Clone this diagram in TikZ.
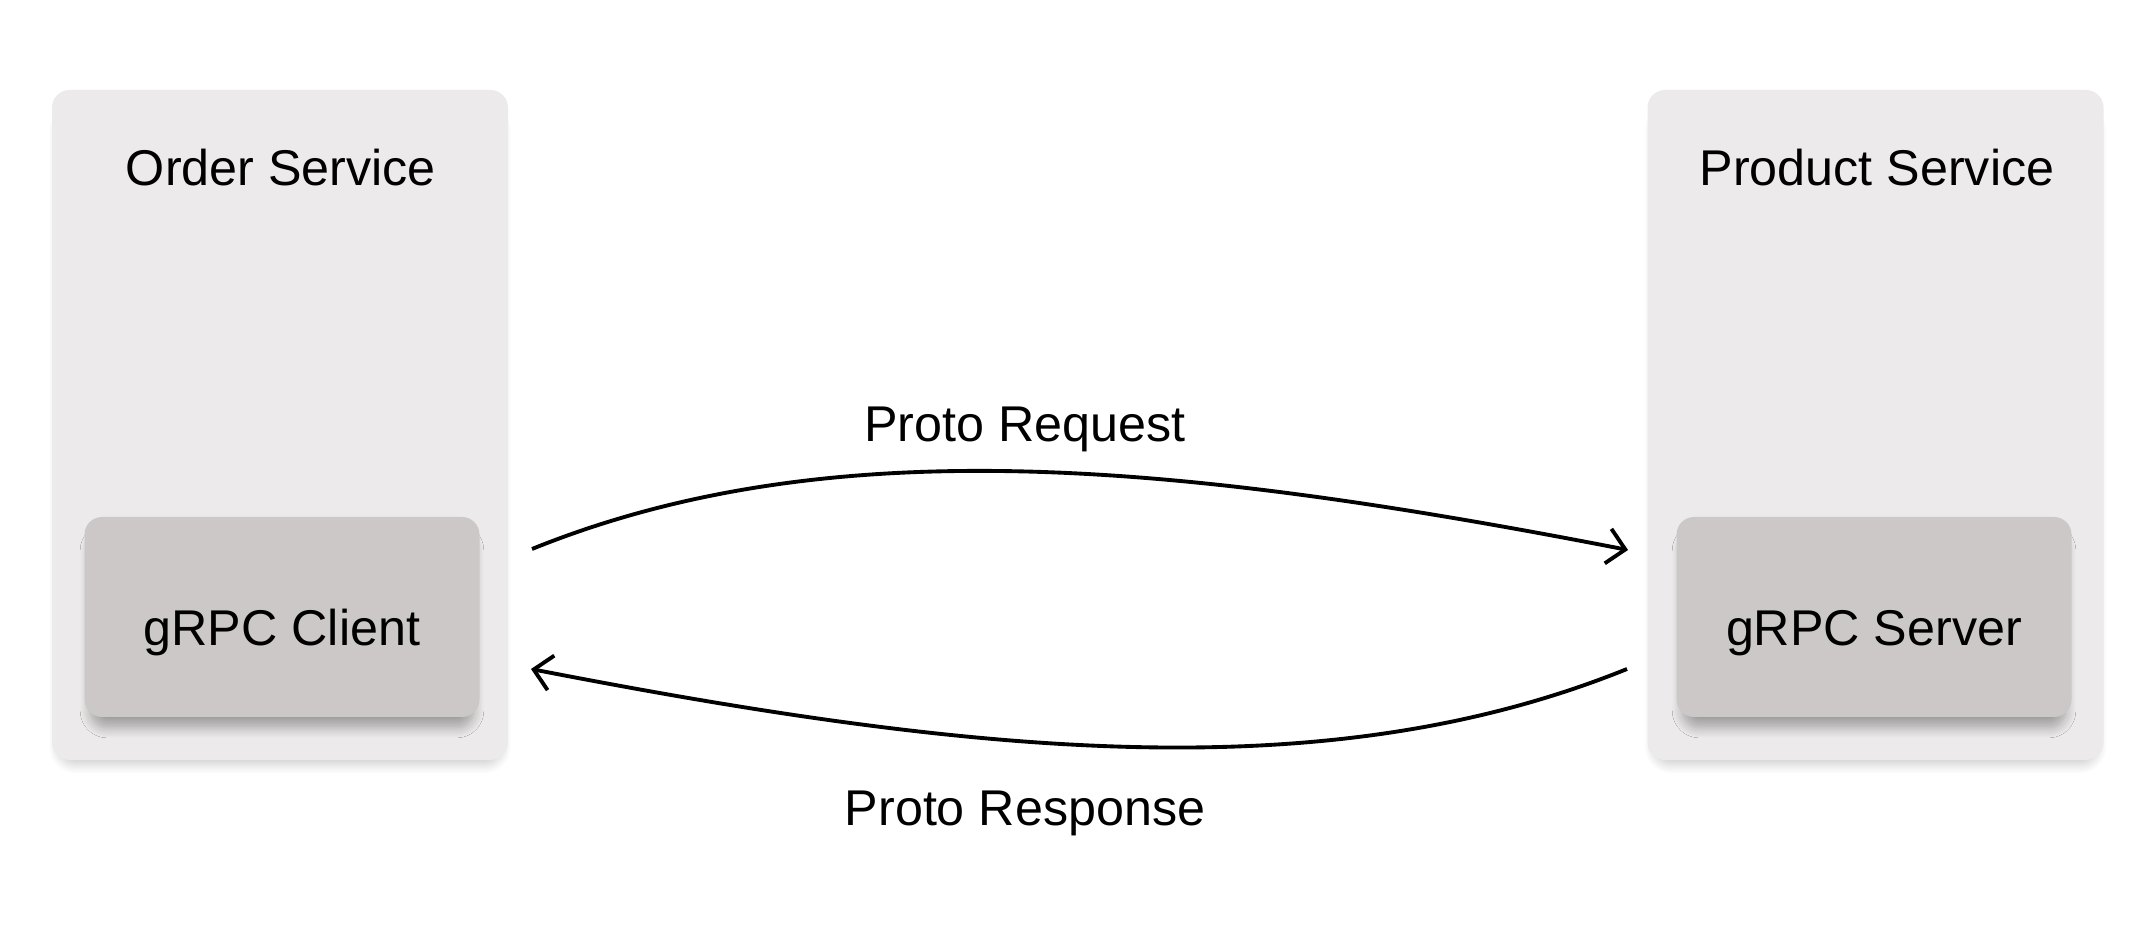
\documentclass[tikz,border=0pt]{standalone}
\usepackage{fontspec}
\setmainfont{Liberation Sans}
\usetikzlibrary{arrows.meta,shadows.blur}
\definecolor{serviceBg}{HTML}{ECEAEB}
\definecolor{grpcBg}{HTML}{CBC8C7}

\tikzset{
    service/.style={rounded corners=5pt, fill=serviceBg, minimum width=4.56cm, minimum height=6.7cm,
        blur shadow={shadow xshift=0pt, shadow yshift=-4pt, shadow scale=0.97, shadow blur radius=3pt,
            shadow blur steps=12, shadow opacity=22}},
    grpcbox/.style={rounded corners=5pt, fill=grpcBg, minimum width=3.95cm, minimum height=2cm,
        font=\fontsize{14.3}{17}\selectfont, text height=19pt, text depth=3pt,
        blur shadow={shadow xshift=0pt, shadow yshift=-4pt, shadow scale=0.97, shadow blur radius=3pt,
            shadow blur steps=12, shadow opacity=32}},
    title/.style={font=\fontsize{14.3}{17}\selectfont},
    proto/.style={line width=1.1pt, -{Straight Barb[length=5pt, width=10pt]}}
}

\begin{document}
\begin{tikzpicture}
    \useasboundingbox (0,0) rectangle (21.4,9.3);

    % Left side - order service
    \node[service] (order) at (2.80,5.05) {};
    \node[title] (ordertitle) at (2.81,7.62) {Order Service};
    \node[grpcbox] (client) at (2.82,3.13) {gRPC Client};

    % Right side - product service
    \node[service] (product) at (18.755,5.05) {};
    \node[title] (producttitle) at (18.77,7.62) {Product Service};
    \node[grpcbox] (server) at (18.74,3.13) {gRPC Server};

    % Arrow ends
    \coordinate (reqfrom) at (5.32,3.81);
    \coordinate (reqto) at (16.28,3.80);
    \coordinate (resfrom) at (16.27,2.61);
    \coordinate (resto) at (5.31,2.61);

    % Request and response
    \draw[proto] (reqfrom) .. controls (8.29,5.01) and (11.76,4.68) .. (reqto);
    \draw[proto] (resfrom) .. controls (13.30,1.41) and (9.83,1.73) .. (resto);
    \node[title] (request) at (10.25,5.01) {Proto Request};
    \node[title] (response) at (10.25,1.17) {Proto Response};
\end{tikzpicture}
\end{document}
